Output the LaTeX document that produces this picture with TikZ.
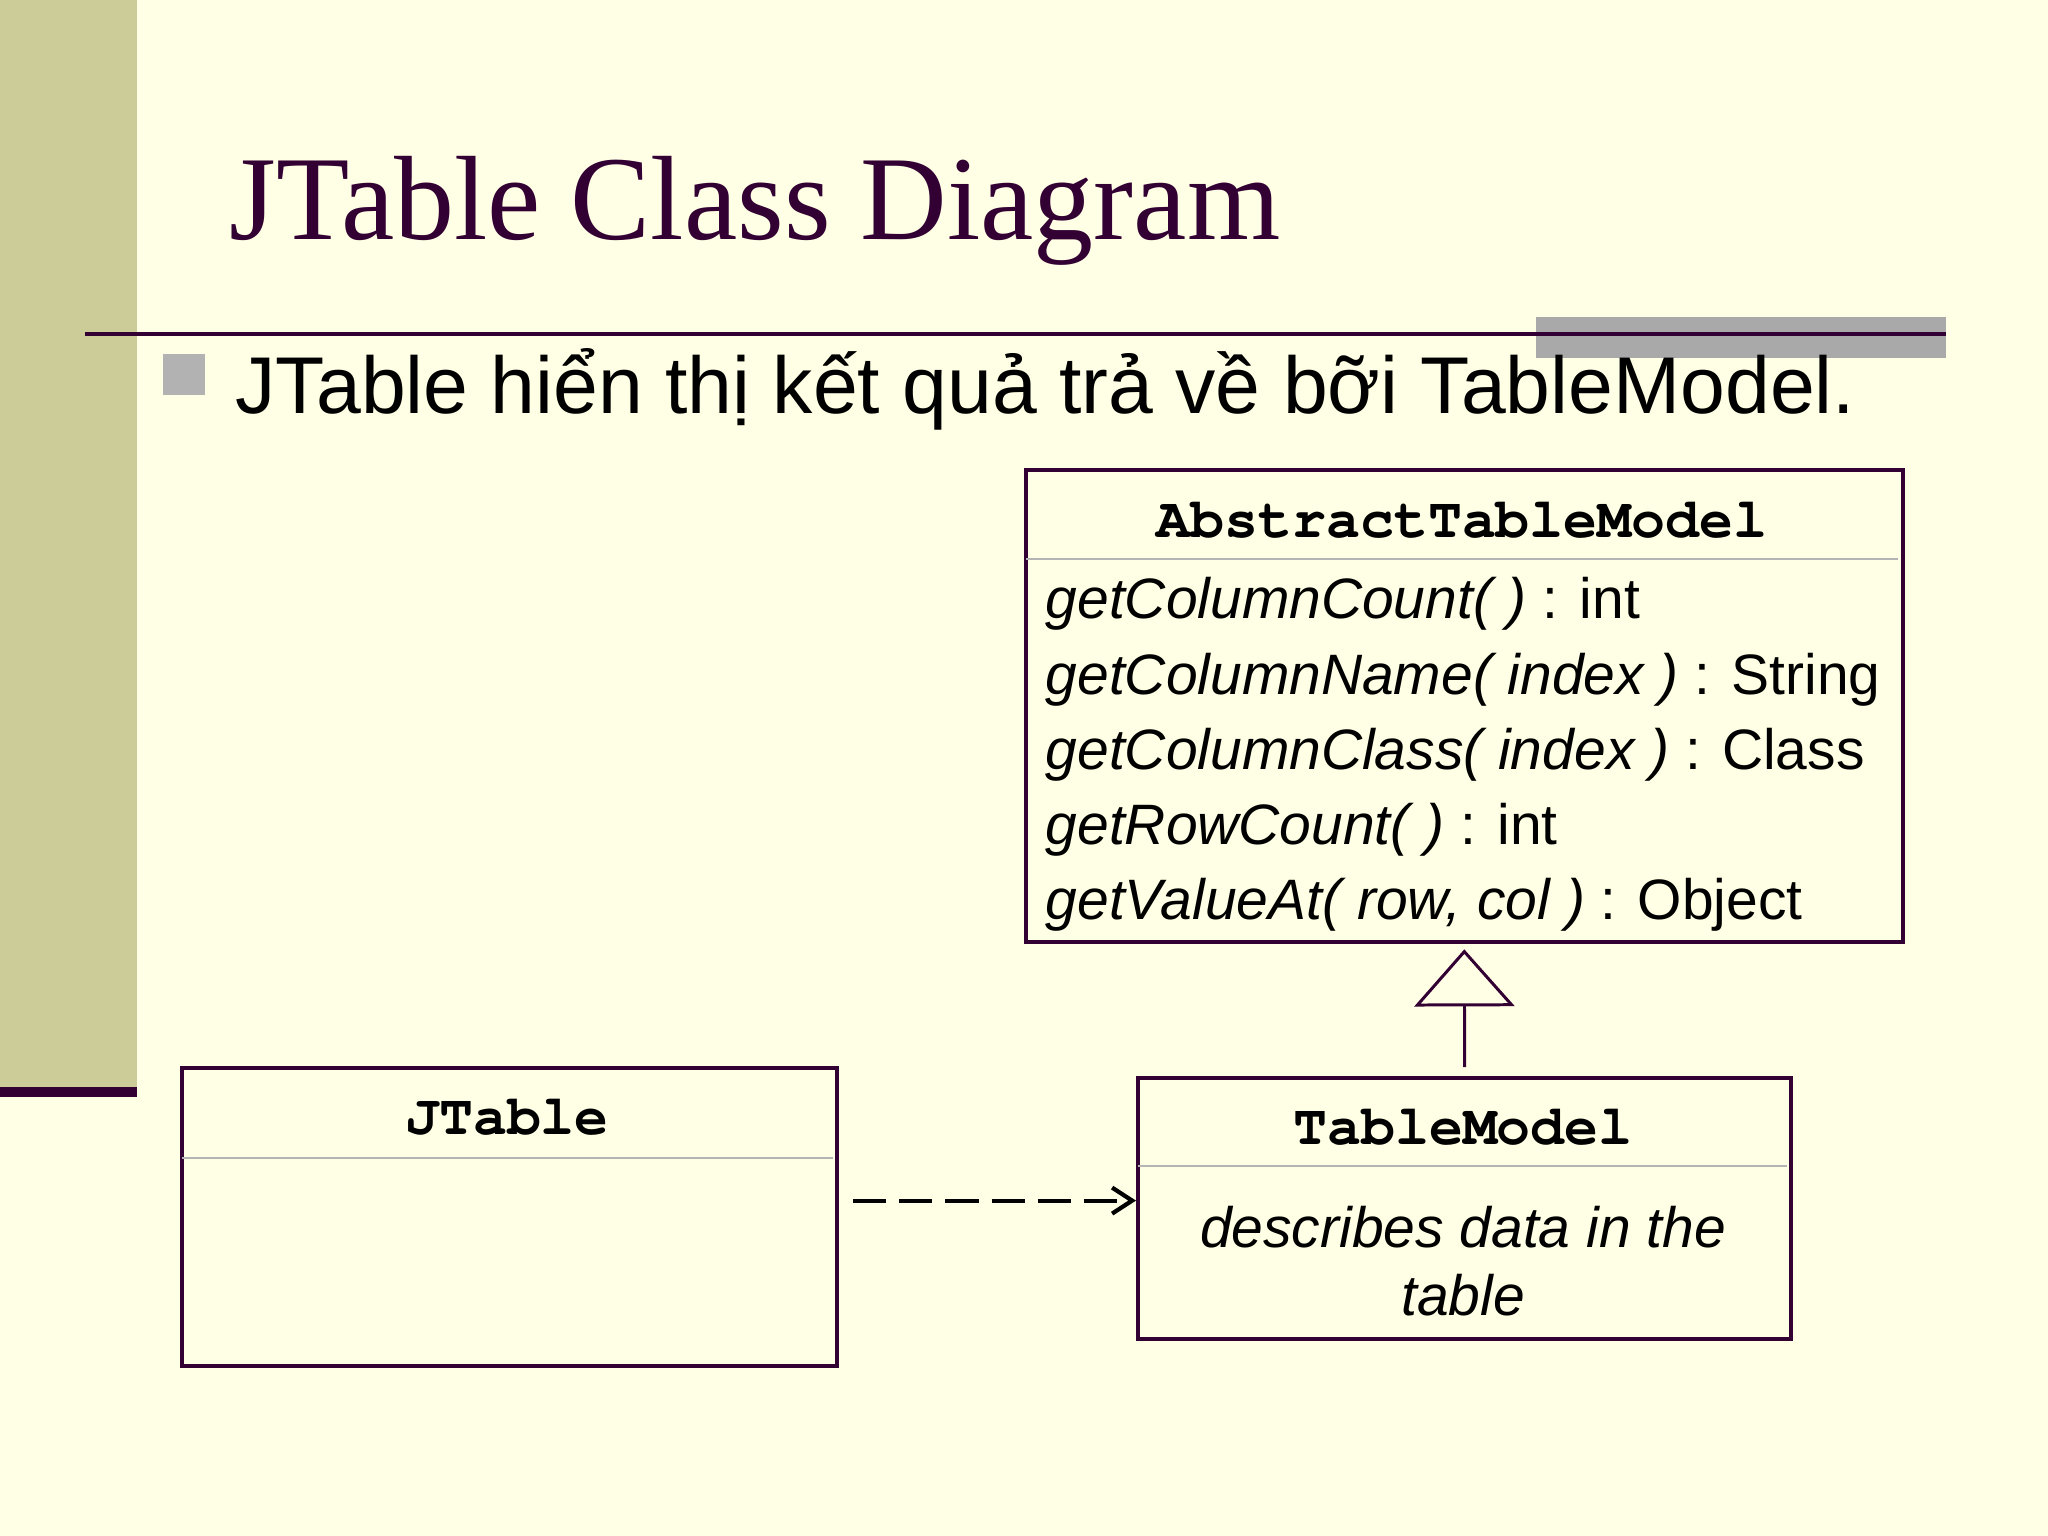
\documentclass[tikz,border=0pt]{standalone}
\usepackage{fontspec}
\setmainfont{Liberation Serif}
\setsansfont{Liberation Sans}
\setmonofont{TeX Gyre Cursor}
\usetikzlibrary{arrows.meta, positioning}

\definecolor{slidebg}{HTML}{FFFFE5}
\definecolor{bandcol}{HTML}{CCCC99}
\definecolor{plum}{HTML}{330033}
\definecolor{bulletgrey}{HTML}{B2B2B2}
\definecolor{sepgrey}{HTML}{B4B4B4}

\begin{document}
\begin{tikzpicture}[x=0.01cm, y=-0.01cm]

\tikzset{classbox/.style = {draw=plum, line width=1.15pt, inner sep=0pt, anchor=north west}}
\tikzset{classname/.style = {font=\ttfamily\bfseries\fontsize{16.1}{19}\selectfont, inner sep=0pt, anchor=base}}
\tikzset{method/.style = {font=\sffamily\fontsize{16.2}{19}\selectfont, inner sep=0pt, anchor=base west}}
\tikzset{note/.style = {font=\sffamily\itshape\fontsize{16.2}{19}\selectfont, inner sep=0pt, anchor=base}}
\tikzset{sepline/.style = {draw=sepgrey, line width=0.5pt}}
\tikzset{depends/.style = {draw=black, line width=1.2pt, dash pattern=on 0.33cm off 0.13cm,
  -{Straight Barb[length=0.2cm, width=0.26cm]}}}
\tikzset{inherits/.style = {draw=plum, line width=0.85pt, -{Triangle[open, length=0.57cm, width=1cm]}}}

% slide
\useasboundingbox (0,0) rectangle (2048,1536);
\fill[slidebg] (0,0) rectangle (2048,1536);
\fill[bandcol] (0,0) rectangle (137,1087);
\fill[plum] (0,1087) rectangle (137,1097);
\fill[bulletgrey!95!black] (1536,317) rectangle (1946,358);
\draw[plum, line width=1.15pt] (85,334) -- (1946,334);
\fill[bulletgrey] (163,354) rectangle (205,395);

\node[font=\fontsize{34.1}{40}\selectfont, text=plum, inner sep=0pt, anchor=base west] (title) at (229,239) {JTable Class Diagram};
\node[font=\sffamily\fontsize{22.9}{27}\selectfont, inner sep=0pt, anchor=base west] (point) at (235,413) {JTable hiển thị kết quả trả về bỡi TableModel.};

% classes
\node[classbox, minimum width=8.76cm, minimum height=4.72cm] (atm) at (1024,468) {};
\node[classbox, minimum width=6.55cm, minimum height=2.98cm] (jt) at (180,1066) {};
\node[classbox, minimum width=6.53cm, minimum height=2.61cm] (tm) at (1136,1076) {};

\draw[sepline] (1026,559) -- (1898,559);
\draw[sepline] (182,1158) -- (833,1158);
\draw[sepline] (1138,1166) -- (1787,1166);

\node[classname] (atmname) at (1462,537) {AbstractTableModel};
\node[classname] (jtname) at (507,1134) {JTable};
\node[classname] (tmname) at (1463,1144) {TableModel};

% operations
\node[method] (m1) at (1045,618) {\textit{getColumnCount( )} : int};
\node[method] (m2) at (1045,694) {\textit{getColumnName( index )} : String};
\node[method] (m3) at (1045,769) {\textit{getColumnClass( index )} : Class};
\node[method] (m4) at (1045,844) {\textit{getRowCount( )} : int};
\node[method] (m5) at (1045,919) {\textit{getValueAt( row, col )} : Object};

\node[note] (d1) at (1463,1247) {describes data in the};
\node[note] (d2) at (1463,1315) {table};

% relations
\draw[inherits, shorten <=0.09cm, shorten >=0.05cm] (tm.north) -- (atm.south);
\draw[depends, shorten <=0.14cm] ([yshift=0.08cm]tm.west -| jt.east) -- ([yshift=0.08cm]tm.west);
\end{tikzpicture}
\end{document}
